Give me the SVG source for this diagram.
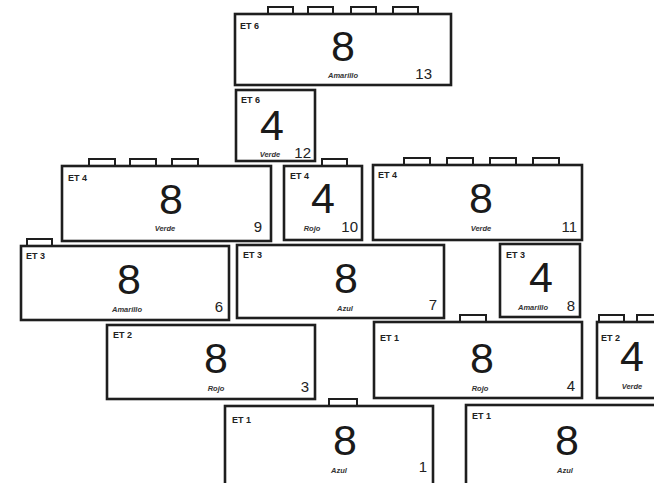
<svg xmlns="http://www.w3.org/2000/svg" width="654" height="483" viewBox="0 0 654 483">
<style>
.b{fill:#fff;stroke:#1e1e1e;stroke-width:2.6}
.s{fill:#fff;stroke:#1e1e1e;stroke-width:2}
.et{font-family:"Liberation Sans",Arial,sans-serif;font-size:9px;font-weight:bold;fill:#222}
.big{font-family:"Liberation Sans",Arial,sans-serif;font-size:43px;fill:#1a1a1a;text-anchor:middle}
.c{font-family:"Liberation Sans",Arial,sans-serif;font-size:7.5px;font-weight:bold;font-style:italic;fill:#333;text-anchor:middle}
.n{font-family:"Liberation Sans",Arial,sans-serif;font-size:15px;fill:#222;text-anchor:end}
</style>
<rect width="654" height="483" fill="#fff"/>
<g id="b13">
<rect class="s" x="268" y="7" width="25" height="7"/><rect class="s" x="308" y="7" width="25" height="7"/><rect class="s" x="351" y="7" width="25" height="7"/><rect class="s" x="393" y="7" width="25" height="7"/>
<rect class="b" x="235" y="14" width="216" height="71"/>
<text class="et" x="240" y="29">ET 6</text><text class="big" x="343" y="61">8</text><text class="c" x="343" y="78">Amarillo</text><text class="n" x="432" y="79">13</text>
</g>
<g id="b12">
<rect class="b" x="236" y="90" width="79" height="71"/>
<text class="et" x="241" y="103">ET 6</text><text class="big" x="272" y="140">4</text><text class="c" x="270" y="157">Verde</text><text class="n" x="311" y="158">12</text>
</g>
<g id="b9">
<rect class="s" x="89" y="159" width="26" height="7"/><rect class="s" x="130" y="159" width="26" height="7"/><rect class="s" x="172" y="159" width="26" height="7"/>
<rect class="b" x="62" y="166" width="209" height="75"/>
<text class="et" x="68" y="181">ET 4</text><text class="big" x="171" y="214">8</text><text class="c" x="165" y="231">Verde</text><text class="n" x="262" y="232">9</text>
</g>
<g id="b10">
<rect class="s" x="322" y="159" width="25" height="7"/>
<rect class="b" x="284" y="166" width="78" height="74"/>
<text class="et" x="290" y="179">ET 4</text><text class="big" x="323" y="213">4</text><text class="c" x="312" y="231">Rojo</text><text class="n" x="358" y="232">10</text>
</g>
<g id="b11">
<rect class="s" x="404" y="158" width="26" height="7"/><rect class="s" x="447" y="158" width="26" height="7"/><rect class="s" x="490" y="158" width="26" height="7"/><rect class="s" x="533" y="158" width="26" height="7"/>
<rect class="b" x="373" y="165" width="209" height="75"/>
<text class="et" x="378" y="178">ET 4</text><text class="big" x="481" y="213">8</text><text class="c" x="481" y="231">Verde</text><text class="n" x="577" y="232">11</text>
</g>
<g id="b6">
<rect class="s" x="27" y="239" width="25" height="7"/>
<rect class="b" x="21" y="246" width="208" height="74"/>
<text class="et" x="26" y="259">ET 3</text><text class="big" x="129" y="294">8</text><text class="c" x="127" y="312">Amarillo</text><text class="n" x="223" y="312">6</text>
</g>
<g id="b7">
<rect class="b" x="237" y="245" width="207" height="73"/>
<text class="et" x="243" y="258">ET 3</text><text class="big" x="346" y="293">8</text><text class="c" x="345" y="311">Azul</text><text class="n" x="437" y="310">7</text>
</g>
<g id="b8">
<rect class="b" x="500" y="244" width="80" height="73"/>
<text class="et" x="506" y="258">ET 3</text><text class="big" x="541" y="292">4</text><text class="c" x="533" y="310">Amarillo</text><text class="n" x="575" y="311">8</text>
</g>
<g id="b3">
<rect class="b" x="107" y="325" width="208" height="74"/>
<text class="et" x="113" y="338">ET 2</text><text class="big" x="216" y="373">8</text><text class="c" x="216" y="391">Rojo</text><text class="n" x="309" y="392">3</text>
</g>
<g id="b4">
<rect class="s" x="460" y="315" width="26" height="7"/>
<rect class="b" x="374" y="322" width="208" height="76"/>
<text class="et" x="380" y="341">ET 1</text><text class="big" x="482" y="373">8</text><text class="c" x="480" y="391">Rojo</text><text class="n" x="575" y="391">4</text>
</g>
<g id="b5">
<rect class="s" x="599" y="315" width="25" height="7"/><rect class="s" x="637" y="315" width="25" height="7"/>
<rect class="b" x="597" y="322" width="65" height="76"/>
<text class="et" x="601" y="341">ET 2</text><text class="big" x="632" y="371">4</text><text class="c" x="632" y="389">Verde</text>
</g>
<g id="b1">
<rect class="s" x="329" y="399" width="28" height="7"/>
<rect class="b" x="225" y="406" width="208" height="80"/>
<text class="et" x="232" y="423">ET 1</text><text class="big" x="345" y="455">8</text><text class="c" x="339" y="473">Azul</text><text class="n" x="427" y="472">1</text>
</g>
<g id="b2">
<rect class="b" x="466" y="405" width="196" height="81"/>
<text class="et" x="472" y="419">ET 1</text><text class="big" x="567" y="455">8</text><text class="c" x="565" y="473">Azul</text>
</g>
<g id="connectors"></g>
</svg>
